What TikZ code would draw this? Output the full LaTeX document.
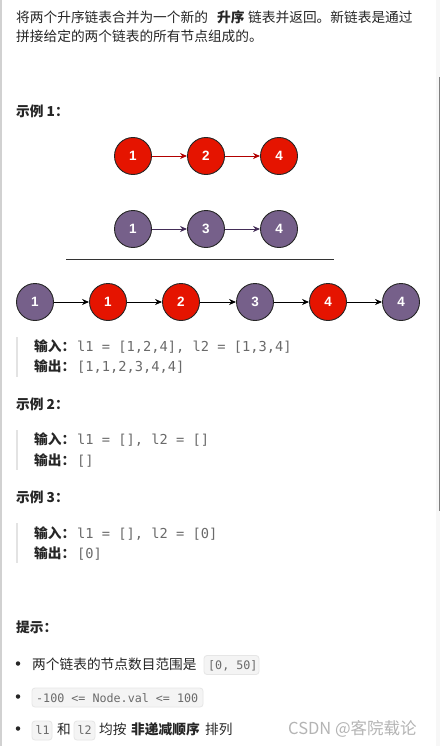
\documentclass[tikz,border=0pt]{standalone}
\usepackage{fontspec}
\setmainfont{Noto Sans CJK SC}
\newfontfamily\cjk{Noto Sans CJK SC}
\newfontfamily\codefont{DejaVu Sans Mono}
\newfontfamily\nodefont{Liberation Sans}
\usetikzlibrary{arrows.meta}
\definecolor{txt}{HTML}{262626}
\definecolor{codegray}{HTML}{6A6A6A}
\definecolor{redfill}{HTML}{E51400}
\definecolor{redline}{HTML}{B20000}
\definecolor{purfill}{HTML}{76608A}
\definecolor{purline}{HTML}{432D57}
\definecolor{barcol}{HTML}{E3E3E3}
\definecolor{boxfill}{HTML}{F4F4F4}
\definecolor{boxline}{HTML}{E6E6E6}
\definecolor{wm}{HTML}{B4B4B4}
\tikzset{
  body/.style={anchor=base west, inner sep=0pt, text=txt, font=\fontsize{13.7}{16}\selectfont\cjk},
  bodybold/.style={body, font=\fontsize{13.7}{16}\selectfont\cjk\bfseries},
  codetxt/.style={anchor=base west, inner sep=0pt, text=codegray, font=\fontsize{13.7}{16}\selectfont\codefont},
  smallcode/.style={anchor=base west, inner sep=0pt, text=codegray, font=\fontsize{11.7}{14}\selectfont\codefont},
  codebox/.style={draw=boxline, fill=boxfill, rounded corners=3pt, line width=0.8pt},
  rednode/.style={circle, draw=black!85, fill=redfill, line width=0.9pt, minimum size=37pt, inner sep=0pt, text=white, font=\fontsize{13.5}{14}\selectfont\nodefont\bfseries},
  purnode/.style={rednode, fill=purfill},
  redarrow/.style={draw=redline, line width=0.9pt, -{Stealth[length=7pt,width=6pt]}},
  purarrow/.style={draw=purline, line width=0.9pt, -{Stealth[length=7pt,width=6pt]}},
  blkarrow/.style={draw=black, line width=0.9pt, -{Stealth[length=7pt,width=6pt]}},
  quotebar/.style={draw=barcol, line width=2pt},
  bulletdot/.style={circle, fill=txt, inner sep=0pt, minimum size=4.5pt}
}
\begin{document}
\begin{tikzpicture}[x=1pt, y=-1pt]
\useasboundingbox (0,0) rectangle (440,746);
\fill[white] (0,0) rectangle (440,746);
% page edges
\fill[black!3] (436,0) rectangle (440,746);
\draw[black!18, line width=1.5pt] (1,0) -- (1,746);
\draw[black!50, line width=1pt] (439.5,77) -- (439.5,511);

% intro text
\node[body] (t1a) at (16,22.4) {将两个升序链表合并为一个新的};
\node[bodybold] (t1b) at (217,22.4) {升序};
\node[body] (t1c) at (248,22.4) {链表并返回。新链表是通过};
\node[body] (t2) at (16,41.5) {拼接给定的两个链表的所有节点组成的。};

% example 1
\node[bodybold] (ex1) at (16,116.5) {示例 1：};

\node[rednode] (a1) at (133,156) {1};
\node[rednode] (a2) at (206,156) {2};
\node[rednode] (a3) at (279,156) {4};
\draw[redarrow] (a1) -- (a2);
\draw[redarrow] (a2) -- (a3);

\node[purnode] (b1) at (133,229) {1};
\node[purnode] (b2) at (206,229) {3};
\node[purnode] (b3) at (279,229) {4};
\draw[purarrow] (b1) -- (b2);
\draw[purarrow] (b2) -- (b3);

\coordinate (sepL) at (66,259.5);
\coordinate (sepR) at (334,259.5);
\draw[black!80, line width=1pt] (sepL) -- (sepR);

\node[purnode] (c1) at (35,302) {1};
\node[rednode] (c2) at (108,302) {1};
\node[rednode] (c3) at (181,302) {2};
\node[purnode] (c4) at (255,302) {3};
\node[rednode] (c5) at (328,302) {4};
\node[purnode] (c6) at (401,302) {4};
\draw[blkarrow] (c1) -- (c2);
\draw[blkarrow] (c2) -- (c3);
\draw[blkarrow] (c3) -- (c4);
\draw[blkarrow] (c4) -- (c5);
\draw[blkarrow] (c5) -- (c6);

\coordinate (q1t) at (17,337);
\coordinate (q1b) at (17,377);
\draw[quotebar] (q1t) -- (q1b);
\node[bodybold] (in1) at (34,351.5) {输入：};
\node[codetxt] (in1c) at (77,351.5) {l1 = [1,2,4], l2 = [1,3,4]};
\node[bodybold] (out1) at (34,371.5) {输出：};
\node[codetxt] (out1c) at (77,371.5) {[1,1,2,3,4,4]};

% example 2
\node[bodybold] (ex2) at (16,409) {示例 2：};
\coordinate (q2t) at (17,430);
\coordinate (q2b) at (17,470);
\draw[quotebar] (q2t) -- (q2b);
\node[bodybold] (in2) at (34,444.5) {输入：};
\node[codetxt] (in2c) at (77,444.5) {l1 = [], l2 = []};
\node[bodybold] (out2) at (34,465) {输出：};
\node[codetxt] (out2c) at (77,465) {[]};

% example 3
\node[bodybold] (ex3) at (16,502) {示例 3：};
\coordinate (q3t) at (17,523);
\coordinate (q3b) at (17,563);
\draw[quotebar] (q3t) -- (q3b);
\node[bodybold] (in3) at (34,538) {输入：};
\node[codetxt] (in3c) at (77,538) {l1 = [], l2 = [0]};
\node[bodybold] (out3) at (34,558) {输出：};
\node[codetxt] (out3c) at (77,558) {[0]};

% hints
\node[bodybold] (hint) at (16,632) {提示：};

\node[bulletdot] (d1) at (18,663.5) {};
\node[body] (h1) at (32,669) {两个链表的节点数目范围是};
\draw[codebox] (204,655.5) rectangle (259,674.5);
\node[smallcode] (h1c) at (208,669) {[0, 50]};

\node[bulletdot] (d2) at (18,696.5) {};
\draw[codebox] (32,688) rectangle (203,707);
\node[smallcode] (h2c) at (36,702) {-100 <= Node.val <= 100};

\node[bulletdot] (d3) at (18,728.5) {};
\draw[codebox] (32,721) rectangle (52,740);
\node[smallcode] (h3a) at (35.5,734.5) {l1};
\node[body] (h3b) at (57,734.5) {和};
\draw[codebox] (74,721) rectangle (95,740);
\node[smallcode] (h3c) at (77.5,734.5) {l2};
\node[body] (h3d) at (99,734.5) {均按};
\node[bodybold] (h3e) at (131,734.5) {非递减顺序};
\node[body] (h3f) at (205,734.5) {排列};

% watermark
\node[anchor=base west, inner sep=0pt, text=wm, font=\fontsize{16.5}{18}\selectfont\cjk] (wmk) at (288,734) {CSDN @客院载论};
\end{tikzpicture}
\end{document}
